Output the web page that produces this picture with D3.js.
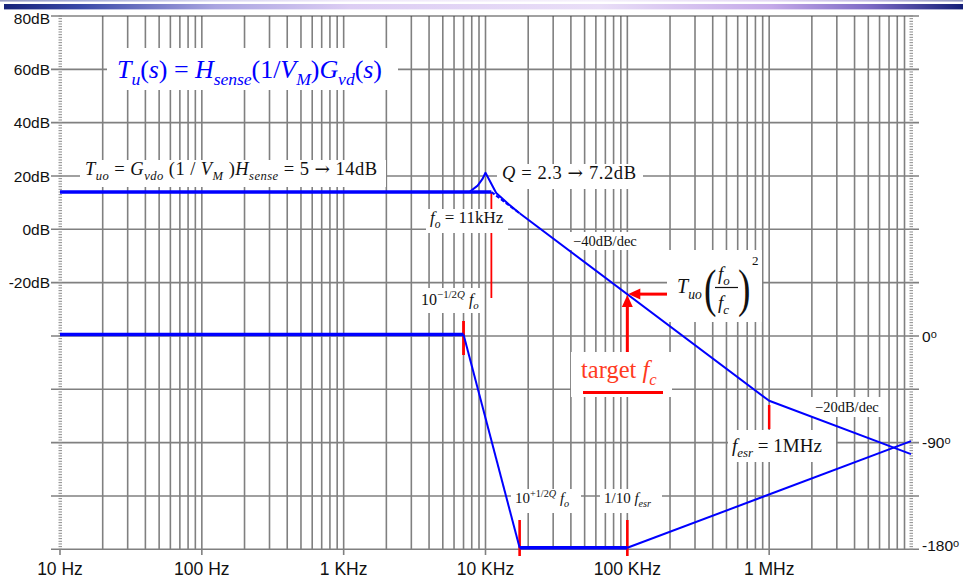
<!DOCTYPE html>
<html>
<head>
<meta charset="utf-8">
<script src="https://cdn.jsdelivr.net/npm/d3@7"></script>
<style>
  body { margin: 0; background: #fff; }
  svg { display: block; }
  text { white-space: pre; }
</style>
</head>
<body>
<svg id="chart" width="963" height="581"></svg>
<script>
// ---- axis ticks and labels ----
const freqTicks = [10, 100, 1e3, 1e4, 1e5, 1e6];
const freqTickLabels = ["10 Hz", "100 Hz", "1 KHz", "10 KHz", "100 KHz", "1 MHz"];
const dbGrid = [80, 60, 40, 20, 0, -20, -40, -60, -80, -100, -120];
const dbTicks = [80, 60, 40, 20, 0, -20];
const dbTickLabels = ["80dB", "60dB", "40dB", "20dB", "0dB", "-20dB"];
const phaseTicks = [0, -90, -180];
const phaseTickLabels = ["0", "-90", "-180"];

// ---- magnitude (dB) vs frequency (Hz) ----
const magFlat = [[10, 14], [11000, 14]];
const magAsymNear = [[11000, 14], [17400, 6.0]];
const magAsym = [[17400, 6.0], [1e6, -64.3], [1e7, -84.3]];
const magResonance = [[7700, 14], [8800, 16.4], [9500, 18.8], [10000, 21.2],
                      [11900, 13.6], [14500, 9.5], [17400, 6.0]];

// ---- phase (deg) vs frequency (Hz) ----
const phaseFlat0 = [[10, 0], [7000, 0]];
const phaseDrop = [[7000, 0], [17400, -180]];
const phaseFlat180 = [[17400, -180], [1e5, -180]];
const phaseRise = [[1e5, -180], [1e7, -90]];

// ---- marker frequencies ----
const targetFc = 1e5;
const targetMag = -24.3;
const fo = 11000;
const fesr = 1e6;

const SERIF = "'Liberation Serif', 'Times New Roman', serif";
const SANS = "'Liberation Sans', Arial, sans-serif";
const BLUE = "#0000ff";
const RED = "#ff0000";
const GRID = "#808080";

const svg = d3.select("#chart");

const x = d3.scaleLog().domain([10, 1e7]).range([60, 911]);
const y = d3.scaleLinear().domain([80, -120]).range([16, 549.3]);
const yPh = d3.scaleLinear().domain([0, -180]).range([y(-40) - 1.5, y(-120) - 1.5]);

// ---- title band ----
const defs = svg.append("defs");
const grad = defs.append("linearGradient").attr("id", "band").attr("x1", "0").attr("x2", "1");
[[0, "#17237a"], [0.08, "#3a4aa8"], [0.22, "#a9a4e0"], [0.36, "#dccdf3"],
 [0.62, "#e9def7"], [0.8, "#c4a9e8"], [0.9, "#7f6cc6"], [1, "#141f78"]]
  .forEach(([o, c]) => grad.append("stop").attr("offset", o).attr("stop-color", c));
svg.append("rect").attr("x", 0).attr("y", 0).attr("width", 963).attr("height", 1.6)
  .attr("fill", "url(#band)").attr("opacity", 0.45);
svg.append("rect").attr("x", 4).attr("y", 4).attr("width", 959).attr("height", 5.4)
  .attr("fill", "url(#band)");

// ---- grid ----
const grid = svg.append("g");
const minorFreqs = [];
for (let k = 1; k <= 6; k++) for (let m = 1; m <= 9; m++) minorFreqs.push(m * Math.pow(10, k));
grid.selectAll("line.v").data(minorFreqs.filter(f => f > 10 && f < 1e7)).join("line")
  .attr("x1", d => x(d)).attr("x2", d => x(d))
  .attr("y1", y(80)).attr("y2", d => freqTicks.includes(d) ? 555 : y(-120))
  .attr("stroke", GRID).attr("stroke-width", 1.6);
grid.selectAll("line.h").data(dbGrid).join("line")
  .attr("x1", 51).attr("x2", 919)
  .attr("y1", d => y(d)).attr("y2", d => y(d))
  .attr("stroke", d => d === 80 ? "#444" : GRID).attr("stroke-width", d => d === 80 ? 1.2 : 1.6);
// edge tick columns (1 dB steps)
const fine = d3.range(-120, 80.5, 1);
[x(10), x(1e7)].forEach(px => {
  grid.append("g").selectAll("line").data(fine).join("line")
    .attr("x1", px - 1.5).attr("x2", px + 2)
    .attr("y1", d => y(d)).attr("y2", d => y(d))
    .attr("stroke", "#8a8a8a").attr("stroke-width", 1);
});
grid.append("line").attr("x1", x(10)).attr("x2", x(10)).attr("y1", y(-120)).attr("y2", 555)
  .attr("stroke", GRID).attr("stroke-width", 1.6);

// ---- axis labels ----
svg.append("g").selectAll("text").data(freqTicks).join("text")
  .attr("x", d => x(d)).attr("y", 575)
  .attr("text-anchor", "middle").attr("font-family", SANS).attr("font-size", 17.5).attr("fill", "#111")
  .text((d, i) => freqTickLabels[i]);
svg.append("g").selectAll("text").data(dbTicks).join("text")
  .attr("x", 50).attr("y", d => Math.max(y(d), 18))
  .attr("dy", "0.36em")
  .attr("text-anchor", "end").attr("font-family", SANS).attr("font-size", 15.5).attr("fill", "#111")
  .text((d, i) => dbTickLabels[i]);
const phLab = svg.append("g").selectAll("text").data(phaseTicks).join("text")
  .attr("x", 922).attr("y", d => Math.min(yPh(d) + 1.5, 545))
  .attr("dy", "0.36em")
  .attr("font-family", SANS).attr("font-size", 15.5).attr("fill", "#111");
phLab.append("tspan").text((d, i) => phaseTickLabels[i]);
phLab.append("tspan").attr("dy", -4).attr("font-size", 11).text("o");

// ---- red frequency markers (behind the annotation boxes) ----
const red = svg.append("g").attr("stroke", RED);
const markers = [
  { f: fo, y1: 193, y2: 298, w: 1.8 },
  { f: phaseFlat0[1][0], y1: 321, y2: 355, w: 2.8 },
  { f: phaseDrop[1][0], y1: 520, y2: 556, w: 2.6 },
  { f: phaseFlat180[1][0], y1: 520, y2: 556, w: 2.6 },
  { f: fesr, y1: 405, y2: 429, w: 2.5 }
];
red.selectAll("line").data(markers).join("line")
  .attr("x1", d => x(d.f)).attr("x2", d => x(d.f))
  .attr("y1", d => d.y1).attr("y2", d => d.y2)
  .attr("stroke-width", d => d.w);

// ---- annotation boxes ----
const boxes = [
  [107, 48, 291, 42],   // transfer function
  [80, 160, 306, 27],   // Tuo
  [497, 164, 146, 25],  // Q
  [426, 209, 82, 24],   // fo
  [570, 232, 72, 18],   // -40dB/dec
  [414, 288, 70, 25],   // 10^-1/2Q fo
  [667, 250, 95, 72],   // Tuo (fo/fc)^2
  [571, 352, 101, 45],  // target fc
  [811, 397, 71, 20],   // -20dB/dec
  [728, 430, 108, 32],  // fesr
  [511, 489, 70, 24],   // 10^+1/2Q fo
  [600, 489, 62, 24]    // 1/10 fesr
];
svg.append("g").selectAll("rect").data(boxes).join("rect")
  .attr("x", d => d[0]).attr("y", d => d[1]).attr("width", d => d[2]).attr("height", d => d[3])
  .attr("fill", "#fff");

// ---- rich text helper (italic, sub- and superscripts, wide arrow) ----
function rich(parent, px, py, size, color, parts, width) {
  const t = parent.append("text").attr("x", px).attr("y", py)
    .attr("font-family", SERIF).attr("font-size", size).attr("fill", color);
  if (width) t.attr("textLength", width).attr("lengthAdjust", "spacing");
  let cur = 0;
  parts.forEach(([txt, st = ""]) => {
    const off = st.includes("_") ? size * 0.28 : st.includes("^") ? -size * 0.42 : 0;
    const ts = t.append("tspan").attr("dy", (off - cur).toFixed(2)).text(txt);
    cur = off;
    if (st.includes("i")) ts.attr("font-style", "italic");
    if (st.includes("a")) ts.attr("font-family", "'DejaVu Serif', serif");
    if (off !== 0) ts.attr("font-size", (size * 0.68).toFixed(2));
  });
  return t;
}

const ann = svg.append("g");
rich(ann, 117, 78, 26, BLUE, [["T", "i"], ["u", "i_"], ["("], ["s", "i"], [")"], [" = "],
  ["H", "i"], ["sense", "i_"], ["(1/"], ["V", "i"], ["M", "i_"], [")"], ["G", "i"], ["vd", "i_"],
  ["("], ["s", "i"], [")"]], 265);
rich(ann, 85, 175, 18.5, "#111", [["T", "i"], ["uo", "i_"], [" = "], ["G", "i"], ["vdo", "i_"],
  [" (1 / "], ["V", "i"], ["M", "i_"], [" )"], ["H", "i"], ["sense", "i_"], [" = 5 "], ["→", "a"], [" 14dB"]], 292);
rich(ann, 502, 179, 18.5, "#111", [["Q", "i"], [" = 2.3 "], ["→", "a"], [" 7.2dB"]], 134);
rich(ann, 430, 223, 17, "#111", [["f", "i"], ["o", "i_"], [" = 11kHz"]]);
rich(ann, 573, 246, 14.5, "#111", [["−40dB/dec"]]);
rich(ann, 421, 305, 16, "#111", [["10"], ["−1/2", "^"], ["Q", "i^"], [" "], ["f", "i"], ["o", "i_"]]);
rich(ann, 815, 412, 14.5, "#111", [["−20dB/dec"]]);
rich(ann, 732, 452, 19, "#111", [["f", "i"], ["esr", "i_"], [" = 1MHz"]]);
rich(ann, 515, 503, 15, "#111", [["10"], ["+1/2", "^"], ["Q", "i^"], [" "], ["f", "i"], ["o", "i_"]]);
rich(ann, 604, 503, 15, "#111", [["1/10 "], ["f", "i"], ["esr", "i_"]]);

// Tuo (fo/fc)^2
rich(ann, 677, 293, 20, "#111", [["T", "i"], ["uo", "i_"]]);
ann.append("text").attr("transform", "translate(704,306) scale(0.72,1)").attr("font-family", SERIF)
  .attr("font-size", 52).attr("fill", "#111").text("(");
ann.append("text").attr("transform", "translate(738,306) scale(0.72,1)").attr("font-family", SERIF)
  .attr("font-size", 52).attr("fill", "#111").text(")");
rich(ann, 718, 279.5, 19, "#111", [["f", "i"], ["o", "i_"]]);
rich(ann, 718, 309, 19, "#111", [["f", "i"], ["c", "i_"]]);
ann.append("line").attr("x1", 715).attr("x2", 738).attr("y1", 287.5).attr("y2", 287.5)
  .attr("stroke", "#111").attr("stroke-width", 1.2);
ann.append("text").attr("x", 752).attr("y", 265).attr("font-family", SERIF)
  .attr("font-size", 13).attr("fill", "#111").text("2");

// target fc
rich(ann, 581, 378, 24.5, "#ff3b1f", [["target "], ["f", "i"], ["c", "i_"]]);
ann.append("line").attr("x1", 583).attr("x2", 663).attr("y1", 392.5).attr("y2", 392.5)
  .attr("stroke", RED).attr("stroke-width", 2.8);

// ---- curves ----
const line = d3.line().x(d => x(d[0])).y(d => y(d[1]));
const linePh = d3.line().x(d => x(d[0])).y(d => yPh(d[1]));
const curves = svg.append("g").attr("fill", "none").attr("stroke", BLUE)
  .attr("stroke-linejoin", "round");
curves.append("path").attr("d", line(magFlat)).attr("stroke-width", 3.6);
curves.append("path").attr("d", line(magAsymNear)).attr("stroke-width", 2)
  .attr("stroke-dasharray", "4,2");
curves.append("path").attr("d", line(magAsym)).attr("stroke-width", 2);
curves.append("path").attr("d", line(magResonance)).attr("stroke-width", 2);
curves.append("path").attr("d", linePh(phaseFlat0)).attr("stroke-width", 3.6);
curves.append("path").attr("d", linePh(phaseDrop)).attr("stroke-width", 2);
curves.append("path").attr("d", linePh(phaseFlat180)).attr("stroke-width", 3.6);
curves.append("path").attr("d", linePh(phaseRise)).attr("stroke-width", 2);

// ---- target arrows ----
const tx = x(targetFc);
const ty = y(targetMag);
const arrows = svg.append("g");
arrows.append("line").attr("x1", 667).attr("x2", tx + 10).attr("y1", ty).attr("y2", ty)
  .attr("stroke", RED).attr("stroke-width", 3);
arrows.append("path").attr("d", `M${tx + 1},${ty} L${tx + 13},${ty - 5.5} L${tx + 13},${ty + 5.5} Z`)
  .attr("fill", RED);
arrows.append("line").attr("x1", tx).attr("x2", tx).attr("y1", 352).attr("y2", ty + 10)
  .attr("stroke", RED).attr("stroke-width", 3);
arrows.append("path").attr("d", `M${tx},${ty + 1} L${tx - 5.5},${ty + 13} L${tx + 5.5},${ty + 13} Z`)
  .attr("fill", RED);
</script>
</body>
</html>
